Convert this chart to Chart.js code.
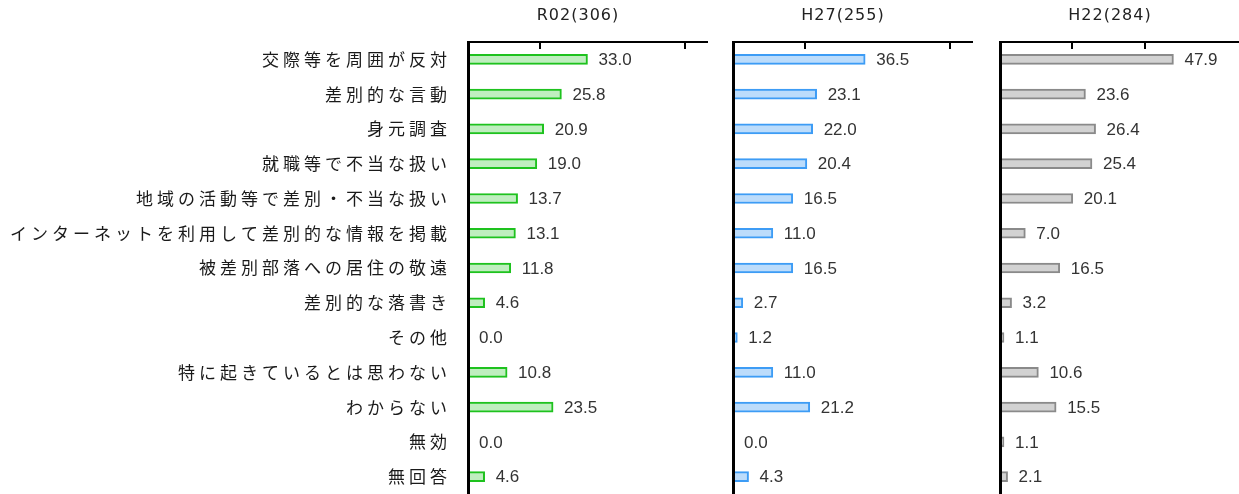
<!DOCTYPE html>
<html>
<head>
<meta charset="utf-8">
<script src="https://cdn.jsdelivr.net/npm/chart.js@4"></script>
<style>
  body { margin: 0; background: #fff; width: 1239px; height: 494px; overflow: hidden; position: relative; }
  .panel { position: absolute; top: 0; height: 494px; }
  .title { position: absolute; top: 5px; width: 200px; text-align: center; letter-spacing: 1px;
           font: 16px "DejaVu Sans", sans-serif; color: #222; }
</style>
</head>
<body>
<div class="panel" id="p1" style="left:0;width:712px"><canvas id="c1"></canvas></div>
<div class="panel" id="p2" style="left:720px;width:257px"><canvas id="c2"></canvas></div>
<div class="panel" id="p3" style="left:987px;width:252px"><canvas id="c3"></canvas></div>
<div class="title" id="t1" style="left:478px"></div>
<div class="title" id="t2" style="left:743px"></div>
<div class="title" id="t3" style="left:1010px"></div>
<script>
// data
const categories = [
  '交際等を周囲が反対', '差別的な言動', '身元調査', '就職等で不当な扱い',
  '地域の活動等で差別・不当な扱い', 'インターネットを利用して差別的な情報を掲載',
  '被差別部落への居住の敬遠', '差別的な落書き', 'その他',
  '特に起きているとは思わない', 'わからない', '無効', '無回答'
];
const r02Values = [33.0, 25.8, 20.9, 19.0, 13.7, 13.1, 11.8, 4.6, 0.0, 10.8, 23.5, 0.0, 4.6];
const h27Values = [36.5, 23.1, 22.0, 20.4, 16.5, 11.0, 16.5, 2.7, 1.2, 11.0, 21.2, 0.0, 4.3];
const h22Values = [47.9, 23.6, 26.4, 25.4, 20.1, 7.0, 16.5, 3.2, 1.1, 10.6, 15.5, 1.1, 2.1];
const panelTitles = ['R02(306)', 'H27(255)', 'H22(284)'];
const r02Ticks = [20, 60];
const h27Ticks = [20, 60];
const h22Ticks = [20, 40];

// colors
const green = '#1ec21e', greenFill = '#bfeebf';
const blue = '#3d9cf5', blueFill = '#bcdcfb';
const gray = '#8a8a8a', grayFill = '#d2d2d2';
const textDark = '#333333';

// value labels + small inner tick marks on the top axis
const panelDecor = {
  id: 'panelDecor',
  beforeDraw(chart) {
    chart.ctx.letterSpacing = '4px';
  },
  afterDatasetsDraw(chart) {
    const ctx = chart.ctx;
    ctx.save();
    ctx.letterSpacing = '0px';
    ctx.font = '17px "Liberation Sans", Arial, sans-serif';
    ctx.fillStyle = textDark;
    ctx.textAlign = 'left';
    ctx.textBaseline = 'middle';
    const meta = chart.getDatasetMeta(0);
    const vals = chart.data.datasets[0].data;
    meta.data.forEach((bar, i) => {
      ctx.fillText(vals[i].toFixed(1), bar.x + 11, bar.y + 1);
    });
    const x = chart.scales.x;
    const top = chart.chartArea.top;
    ctx.strokeStyle = '#000';
    ctx.lineWidth = 2;
    chart.options.plugins.panelDecor.marks.forEach(v => {
      const px = Math.round(x.getPixelForValue(v));
      ctx.beginPath();
      ctx.moveTo(px, top);
      ctx.lineTo(px, top + 7);
      ctx.stroke();
    });
    ctx.restore();
  }
};

function makePanel(canvasId, values, border, fill, marks, yWidth, showLabels, padRight) {
  return new Chart(document.getElementById(canvasId), {
    type: 'bar',
    data: {
      labels: categories,
      datasets: [{
        data: values,
        backgroundColor: fill,
        borderColor: border,
        borderWidth: 2,
        borderSkipped: false,
        barThickness: 10
      }]
    },
    options: {
      indexAxis: 'y',
      responsive: true,
      maintainAspectRatio: false,
      animation: false,
      layout: { padding: { top: 42, right: padRight, bottom: 0, left: 0 } },
      plugins: {
        legend: { display: false },
        tooltip: { enabled: false },
        panelDecor: { marks: marks }
      },
      scales: {
        x: {
          position: 'top',
          min: 0,
          max: 66,
          ticks: { display: false },
          grid: { display: false, drawTicks: false },
          border: { display: true, color: '#000', width: 2 },
          afterFit: s => { s.height = 0; s.paddingLeft = 0; s.paddingRight = 0; }
        },
        y: {
          ticks: {
            display: showLabels,
            padding: 17,
            color: '#1a1a1a',
            font: { family: '"Noto Sans CJK JP", sans-serif', size: 17 }
          },
          grid: { display: false, drawTicks: false },
          border: { display: true, color: '#000', width: 3, z: 1 },
          afterFit: s => { s.width = yWidth; s.paddingTop = 0; s.paddingBottom = 0; }
        }
      }
    },
    plugins: [panelDecor]
  });
}

makePanel('c1', r02Values, green, greenFill, r02Ticks, 468, true, 5);
makePanel('c2', h27Values, blue, blueFill, h27Ticks, 13, false, 5);
makePanel('c3', h22Values, gray, grayFill, h22Ticks, 13, false, 0);

document.getElementById('t1').textContent = panelTitles[0];
document.getElementById('t2').textContent = panelTitles[1];
document.getElementById('t3').textContent = panelTitles[2];
</script>
</body>
</html>
